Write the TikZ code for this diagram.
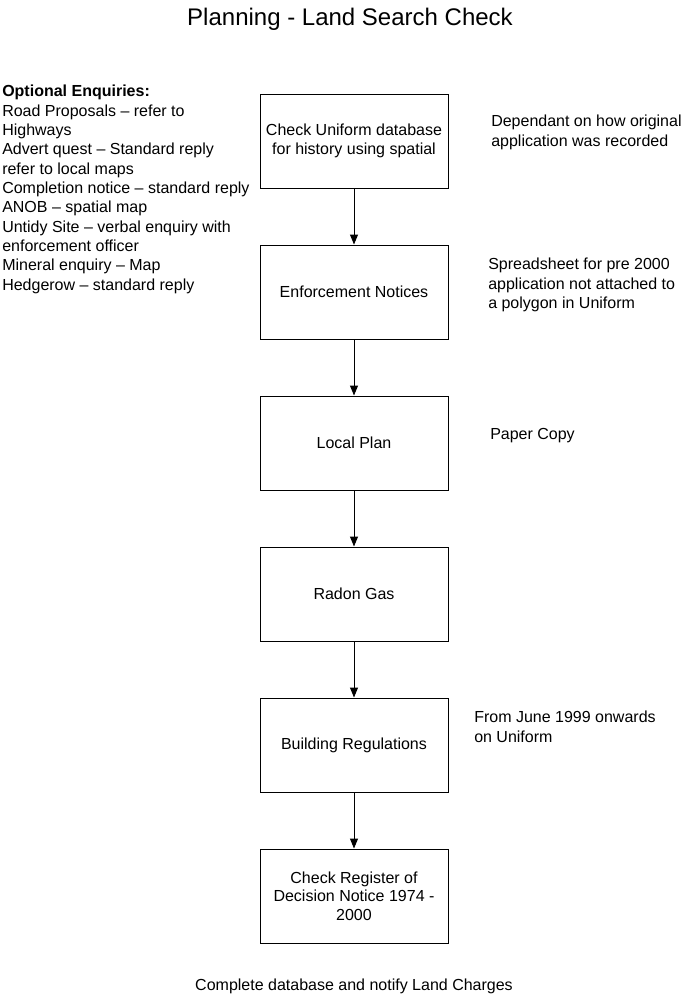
\documentclass[tikz,border=0pt]{standalone}
\usepackage{fontspec}
\setmainfont{Liberation Sans}
\usetikzlibrary{arrows.meta}
\begin{document}
\begin{tikzpicture}[x=0.75pt,y=-0.75pt,
  stepbox/.style={draw=black,line width=0.75pt,minimum width=141pt,minimum height=70.5pt,inner sep=0pt,align=center,font=\fontsize{12}{14}\selectfont},
  note/.style={align=left,inner sep=0pt,anchor=north west,font=\fontsize{12}{14.5}\selectfont},
  flow/.style={-{Triangle[length=7.5pt,width=6pt]},line width=0.75pt}]
\useasboundingbox (0,0) rectangle (686,997);
\node[font=\fontsize{18}{21}\selectfont] (title) at (350,19) {Planning - Land Search Check};
\node[stepbox] (b1) at (354,141) {Check Uniform database\\for history using spatial};
\node[stepbox] (b2) at (354,292) {Enforcement Notices};
\node[stepbox] (b3) at (354,443) {Local Plan};
\node[stepbox] (b4) at (354,594) {Radon Gas};
\node[stepbox] (b5) at (354,745) {Building Regulations};
\node[stepbox] (b6) at (354,896) {Check Register of\\Decision Notice 1974 -\\2000};
\draw[flow] (b1) -- (b2);
\draw[flow] (b2) -- (b3);
\draw[flow] (b3) -- (b4);
\draw[flow] (b4) -- (b5);
\draw[flow] (b5) -- (b6);
\node[note] (opt) at (2,85) {\textbf{Optional Enquiries:}\\Road Proposals – refer to\\Highways\\Advert quest – Standard reply\\refer to local maps\\Completion notice – standard reply\\ANOB – spatial map\\Untidy Site – verbal enquiry with\\enforcement officer\\Mineral enquiry – Map\\Hedgerow – standard reply};
\node[note] (n1) at (491,115) {Dependant on how original\\application was recorded};
\node[note] (n2) at (488,258) {Spreadsheet for pre 2000\\application not attached to\\a polygon in Uniform};
\node[note] (n3) at (490,428) {Paper Copy};
\node[note] (n4) at (474,711) {From June 1999 onwards\\on Uniform};
\node[font=\fontsize{12}{14}\selectfont] (end) at (354,986) {Complete database and notify Land Charges};
\end{tikzpicture}
\end{document}
